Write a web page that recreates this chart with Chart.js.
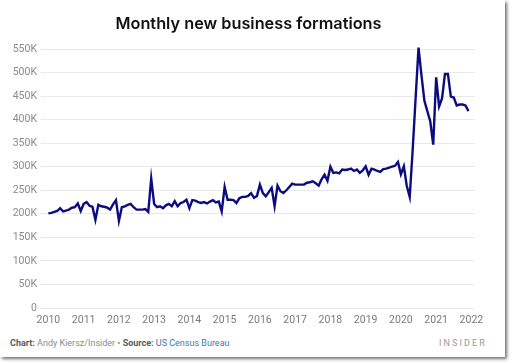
<!DOCTYPE html>
<html lang="en">
<head>
<meta charset="UTF-8">
<title>Monthly new business formations</title>
<script src="https://cdn.jsdelivr.net/npm/chart.js"></script>
<style>
  body { margin: 0; background: #fff; font-family: Roboto, "Noto Sans", sans-serif; }
  #card { position: absolute; left: 0; top: 0; width: 505px; height: 357px; background: #fff; box-shadow: 2px 2px 3px rgba(0,0,0,0.55); }
  #title { position: absolute; left: 0; top: 13px; width: 497px; text-align: center; font-family: Inter, sans-serif; font-weight: 600; font-size: 16.3px; color: #111; }
  #chartBox { position: absolute; left: 0; top: 0; width: 505px; height: 330px; }
  #footer { position: absolute; left: 10px; top: 338px; font-size: 9px; color: #8a8a8a; }
  #footer b { color: #5a5a5a; }
  #footer .src { color: #3a7ca5; }
  #brand { position: absolute; left: 439px; top: 338px; font-size: 9px; letter-spacing: 2.1px; color: #9a9a9a; }
</style>
</head>
<body>
<div id="card">
  <div id="chartBox"><canvas id="bizChart"></canvas></div>
  <div id="title">Monthly new business formations</div>
  <div id="footer"><b>Chart:</b> Andy Kiersz/Insider &bull; <b>Source:</b> <span class="src">US Census Bureau</span></div>
  <div id="brand">INSIDER</div>
</div>

<script>
// monthly values in thousands, Jan..Dec
const y2010 = [201, 202, 204, 206, 212, 205, 207, 209, 213, 214, 222, 206];
const y2011 = [221, 225, 217, 215, 187, 219, 216, 215, 213, 209, 220, 229];
const y2012 = [185, 214, 216, 219, 221, 214, 209, 209, 209, 210, 204, 275];
const y2013 = [221, 214, 216, 212, 218, 221, 216, 227, 216, 223, 225, 230];
const y2014 = [212, 229, 228, 225, 223, 225, 222, 226, 229, 224, 226, 205];
const y2015 = [257, 230, 230, 229, 223, 233, 236, 236, 238, 244, 234, 238];
const y2016 = [262, 244, 237, 246, 255, 216, 260, 248, 244, 250, 257, 264];
const y2017 = [262, 262, 262, 262, 266, 267, 269, 265, 260, 273, 283, 270];
const y2018 = [300, 287, 288, 286, 294, 293, 294, 296, 291, 294, 287, 292];
const y2019 = [301, 283, 296, 294, 291, 289, 295, 296, 298, 300, 302, 310];
const y2020 = [284, 301, 259, 236, 335, 445, 553, 494, 440, 418, 396, 347];
const y2021 = [490, 428, 445, 497, 497, 449, 447, 430, 432, 432, 430, 418];

const seriesByYear = [y2010, y2011, y2012, y2013, y2014, y2015, y2016, y2017, y2018, y2019, y2020, y2021];
const firstYear = 2010;
const yearTicks = [2010, 2011, 2012, 2013, 2014, 2015, 2016, 2017, 2018, 2019, 2020, 2021, 2022];

const points = [];
seriesByYear.forEach((vals, yi) => {
  vals.forEach((v, m) => {
    points.push({ x: firstYear + yi + m / 12, y: v * 1000 });
  });
});

const ctx = document.getElementById('bizChart').getContext('2d');
const bizChart = new Chart(ctx, {
  type: 'line',
  data: {
    datasets: [{
      label: 'New business formations',
      data: points,
      borderColor: '#0c0c80',
      borderWidth: 2.4,
      pointRadius: 0,
      tension: 0,
      clip: false
    }]
  },
  options: {
    responsive: true,
    maintainAspectRatio: false,
    animation: false,
    layout: { padding: { top: 49, right: 30, left: 0, bottom: 0 } },
    plugins: {
      legend: { display: false },
      tooltip: { enabled: false }
    },
    scales: {
      x: {
        type: 'linear',
        min: 2009.79,
        max: 2022.102,
        grid: { display: false, drawTicks: false },
        border: { display: false },
        afterBuildTicks: (axis) => { axis.ticks = yearTicks.map(v => ({ value: v })); },
        afterFit: (axis) => { axis.height = 22; },
        ticks: {
          padding: 6,
          color: '#7a7a7a',
          font: { family: 'Roboto', size: 10.5 },
          maxRotation: 0,
          autoSkip: false,
          callback: (v) => String(v)
        }
      },
      y: {
        min: 0,
        max: 550000,
        grid: { color: '#e9e9e9', drawTicks: false, lineWidth: 1 },
        border: { display: false },
        afterFit: (axis) => { axis.width = 41; },
        ticks: {
          stepSize: 50000,
          padding: 4,
          color: '#8a8a8a',
          font: { family: 'Roboto', size: 10.5 },
          callback: (v) => v === 0 ? '0' : (v / 1000) + 'K'
        }
      }
    }
  }
});
</script>
</body>
</html>
